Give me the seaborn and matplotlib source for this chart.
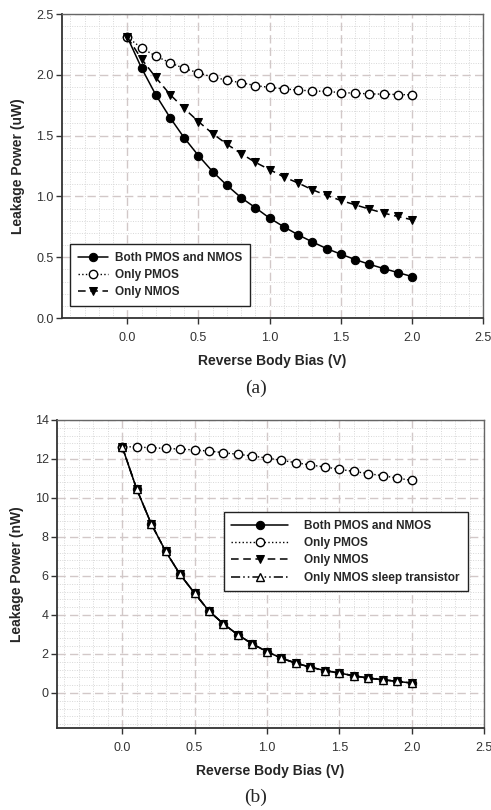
import numpy as np
import pandas as pd
import matplotlib
matplotlib.use("Agg")
import matplotlib.pyplot as plt
import seaborn as sns
from matplotlib.ticker import MultipleLocator

sns.set_style("white")
plt.rcParams['font.family'] = ['Liberation Sans', 'DejaVu Sans']

bias = [0.0, 0.1, 0.2, 0.3, 0.4, 0.5, 0.6, 0.7, 0.8, 0.9, 1.0,
        1.1, 1.2, 1.3, 1.4, 1.5, 1.6, 1.7, 1.8, 1.9, 2.0]

# Panel (a): leakage power in uW
a_both = [2.31, 2.055, 1.835, 1.648, 1.481, 1.335, 1.203, 1.091, 0.989, 0.907, 0.821,
          0.750, 0.684, 0.626, 0.571, 0.525, 0.481, 0.442, 0.407, 0.374, 0.341]
a_pmos = [2.31, 2.22, 2.154, 2.099, 2.052, 2.016, 1.981, 1.956, 1.934, 1.912, 1.896,
          1.885, 1.874, 1.868, 1.863, 1.854, 1.849, 1.843, 1.841, 1.838, 1.835]
a_nmos = [2.31, 2.13, 1.978, 1.838, 1.723, 1.615, 1.516, 1.429, 1.352, 1.280, 1.220,
          1.160, 1.110, 1.055, 1.008, 0.967, 0.931, 0.896, 0.863, 0.835, 0.808]

# Panel (b): leakage power in nW
b_both = [12.64, 10.47, 8.69, 7.27, 6.08, 5.12, 4.20, 3.54, 2.98, 2.51, 2.12,
          1.78, 1.53, 1.32, 1.15, 1.02, 0.88, 0.76, 0.68, 0.59, 0.51]
b_pmos = [12.64, 12.61, 12.58, 12.54, 12.51, 12.46, 12.41, 12.32, 12.24, 12.15, 12.05,
          11.93, 11.81, 11.69, 11.59, 11.47, 11.36, 11.25, 11.14, 11.02, 10.90]
b_nmos = [12.64, 10.47, 8.69, 7.27, 6.08, 5.12, 4.20, 3.54, 2.98, 2.51, 2.12,
          1.78, 1.53, 1.32, 1.15, 1.02, 0.88, 0.76, 0.68, 0.59, 0.51]
b_sleep = [12.64, 10.47, 8.69, 7.27, 6.08, 5.12, 4.20, 3.54, 2.98, 2.51, 2.12,
           1.78, 1.53, 1.32, 1.15, 1.02, 0.88, 0.76, 0.68, 0.59, 0.51]

lbl_both = "Both PMOS and NMOS"
lbl_pmos = "Only PMOS"
lbl_nmos = "Only NMOS"
lbl_sleep = "Only NMOS sleep transistor"

fig = plt.figure(figsize=(4.91, 8.10), dpi=100)
ax1 = fig.add_axes([0.126, 0.6074, 0.858, 0.3753])
ax2 = fig.add_axes([0.116, 0.1012, 0.870, 0.3803])

def style_axes(ax, ylim, ymaj, ymin):
    ax.set_xlim(-0.46, 2.5)
    ax.set_ylim(*ylim)
    ax.xaxis.set_major_locator(MultipleLocator(0.5))
    ax.xaxis.set_minor_locator(MultipleLocator(0.1))
    ax.yaxis.set_major_locator(MultipleLocator(ymaj))
    ax.yaxis.set_minor_locator(MultipleLocator(ymin))
    ax.grid(which='major', color='#d2c8c8', linestyle=(0, (6, 3)), linewidth=1.0)
    ax.grid(which='minor', color='#d8d8d8', linestyle=(0, (1, 1.5)), linewidth=0.7)
    ax.set_axisbelow(True)
    for s in ['left', 'bottom']:
        ax.spines[s].set_color('#333333')
        ax.spines[s].set_linewidth(1.3)
    for s in ['right', 'top']:
        ax.spines[s].set_color('#666666')
        ax.spines[s].set_linewidth(1.0)
    ax.tick_params(which='major', direction='out', length=4, width=1, color='#333333',
                   labelsize=9, labelcolor='#333333', left=True, bottom=True)
    ax.tick_params(axis='x', which='major', pad=6)
    ax.tick_params(axis='y', which='major', pad=2)
    ax.tick_params(which='minor', length=0)
    ax.set_xlabel("Reverse Body Bias (V)", fontsize=10, fontweight='bold', labelpad=7)

mk = 6

# Panel (a)
sns.lineplot(x=bias, y=a_both, ax=ax1, color='black', linestyle='-', linewidth=1.1,
             marker='o', markersize=mk, markerfacecolor='black', markeredgecolor='black',
             label=lbl_both)
sns.lineplot(x=bias, y=a_pmos, ax=ax1, color='black', linestyle=':', linewidth=1.0,
             marker='o', markersize=mk, markerfacecolor='white', markeredgecolor='black',
             markeredgewidth=1.0, label=lbl_pmos)
sns.lineplot(x=bias, y=a_nmos, ax=ax1, color='black', linestyle=(0, (5, 3)), linewidth=1.1,
             marker='v', markersize=mk, markerfacecolor='black', markeredgecolor='black',
             label=lbl_nmos)
style_axes(ax1, (0, 2.5), 0.5, 0.1)
ax1.yaxis.set_major_formatter(matplotlib.ticker.FormatStrFormatter('%.1f'))
ax1.set_ylabel("Leakage Power (uW)", fontsize=10, fontweight='bold', labelpad=8)
leg1 = ax1.legend(loc='lower left', bbox_to_anchor=(0.005, 0.02), fancybox=False, framealpha=1,
                  edgecolor='#222222', handlelength=2.6, prop={'weight': 'bold', 'size': 8.5},
                  borderpad=0.65, labelspacing=0.45, handletextpad=0.6)
leg1.get_frame().set_linewidth(1.0)

# Panel (b)
sns.lineplot(x=bias, y=b_both, ax=ax2, color='black', linestyle='-', linewidth=1.1,
             marker='o', markersize=mk, markerfacecolor='black', markeredgecolor='black',
             label=lbl_both)
sns.lineplot(x=bias, y=b_pmos, ax=ax2, color='black', linestyle=':', linewidth=1.0,
             marker='o', markersize=mk, markerfacecolor='white', markeredgecolor='black',
             markeredgewidth=1.0, label=lbl_pmos)
sns.lineplot(x=bias, y=b_nmos, ax=ax2, color='black', linestyle=(0, (5, 3)), linewidth=1.1,
             marker='v', markersize=mk, markerfacecolor='black', markeredgecolor='black',
             label=lbl_nmos)
sns.lineplot(x=bias, y=b_sleep, ax=ax2, color='black', linestyle=(0, (6, 2, 1, 2, 1, 2)),
             linewidth=1.1, marker='^', markersize=5.5, markerfacecolor='white',
             markeredgecolor='black', markeredgewidth=1.0, label=lbl_sleep)
style_axes(ax2, (-1.8, 14), 2, 0.4)
ax2.set_xlim(-0.45, 2.5)
ax2.set_ylabel("Leakage Power (nW)", fontsize=10, fontweight='bold', labelpad=8)
leg2 = ax2.legend(loc='upper right', bbox_to_anchor=(0.975, 0.72), fancybox=False, framealpha=1,
                  edgecolor='#222222', handlelength=4.8, prop={'weight': 'bold', 'size': 8.5},
                  borderpad=0.65, labelspacing=0.45, handletextpad=1.4)
leg2.get_frame().set_linewidth(1.0)

fig.text(0.522, 1 - 388 / 810, "(a)", ha='center', va='center', fontsize=14,
         family=['Liberation Serif', 'DejaVu Serif'])
fig.text(0.52, 1 - 797 / 810, "(b)", ha='center', va='center', fontsize=14,
         family=['Liberation Serif', 'DejaVu Serif'])

fig.savefig("out.png", dpi=100)
